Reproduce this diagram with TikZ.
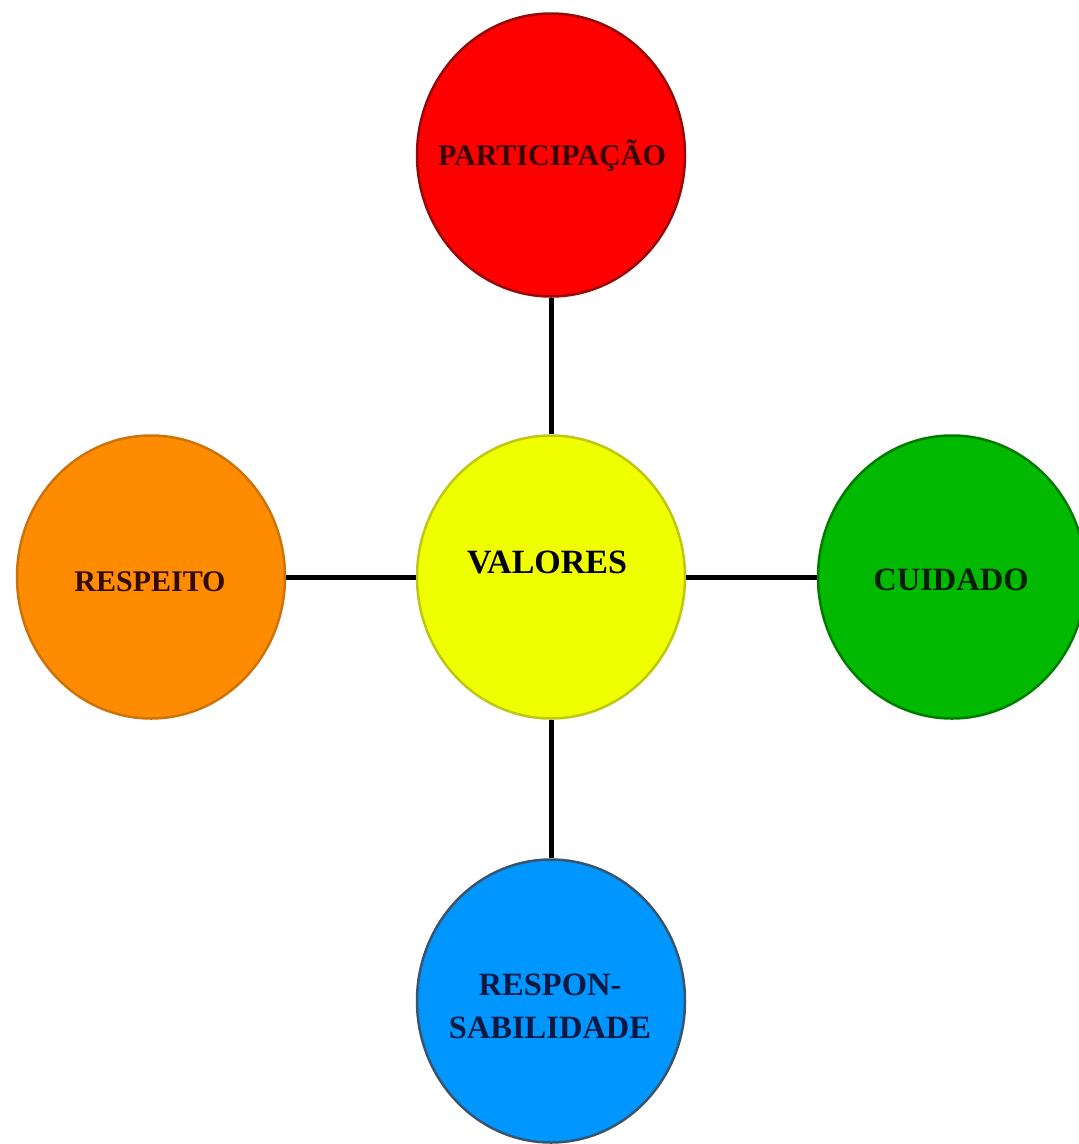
\documentclass[tikz,border=0pt]{standalone}
\usepackage{fontspec}
\setmainfont{Liberation Serif}
\usetikzlibrary{shapes.geometric}

\definecolor{redfill}{RGB}{255,0,0}
\definecolor{redline}{RGB}{150,10,10}
\definecolor{redtext}{RGB}{55,0,0}
\definecolor{yelfill}{RGB}{240,255,0}
\definecolor{yelline}{RGB}{190,200,20}
\definecolor{orgfill}{RGB}{255,140,0}
\definecolor{orgline}{RGB}{205,115,10}
\definecolor{orgtext}{RGB}{50,10,0}
\definecolor{grnfill}{RGB}{0,185,0}
\definecolor{grnline}{RGB}{0,125,0}
\definecolor{grntext}{RGB}{0,30,0}
\definecolor{blufill}{RGB}{0,150,255}
\definecolor{bluline}{RGB}{55,85,110}
\definecolor{blutext}{RGB}{10,25,65}

\tikzset{
  valor/.style={ellipse,draw,line width=2.5pt,inner sep=0pt,
    minimum width=268pt,minimum height=283pt},
  rotulo/.style={font=\bfseries\fontsize{30}{42}\selectfont,align=center,inner sep=0pt}
}

\begin{document}
\begin{tikzpicture}[x=1pt,y=-1pt]

      \useasboundingbox (0,0) rectangle (1079,1144);
      \clip (0,0) rectangle (1079,1144);

      \begin{scope}[every node/.style={valor}]
        \node[fill=yelfill,draw=yelline] (val) at (551,577) {};
        \node[fill=redfill,draw=redline] (par) at (551,155) {};
        \node[fill=orgfill,draw=orgline] (res) at (151,577) {};
        \node[fill=grnfill,draw=grnline] (cui) at (952,577) {};
        \node[fill=blufill,draw=bluline] (rsp) at (551,1001) {};
      \end{scope}

      \begin{scope}[every node/.style={rotulo}]
        \node[font=\bfseries\fontsize{34}{40}\selectfont] (tval) at (547,562) {VALORES};
        \node[text=redtext] (tpar) at (552,156) {PARTICIPAÇÃO};
        \node[text=orgtext] (tres) at (150,582) {RESPEITO};
        \node[text=grntext,font=\bfseries\fontsize{32.5}{42}\selectfont] (tcui) at (951,580) {CUIDADO};
        \node[text=blutext,font=\bfseries\fontsize{32.5}{43}\selectfont] (trsp) at (550,1006) {RESPON-\\SABILIDADE};
      \end{scope}

      \begin{scope}[every edge/.style={draw,line width=5pt}]
        \path (val) edge (par);
        \path (val) edge (res);
        \path (val) edge (cui);
        \path (val) edge (rsp);
      \end{scope}

    \end{tikzpicture}
\end{document}
